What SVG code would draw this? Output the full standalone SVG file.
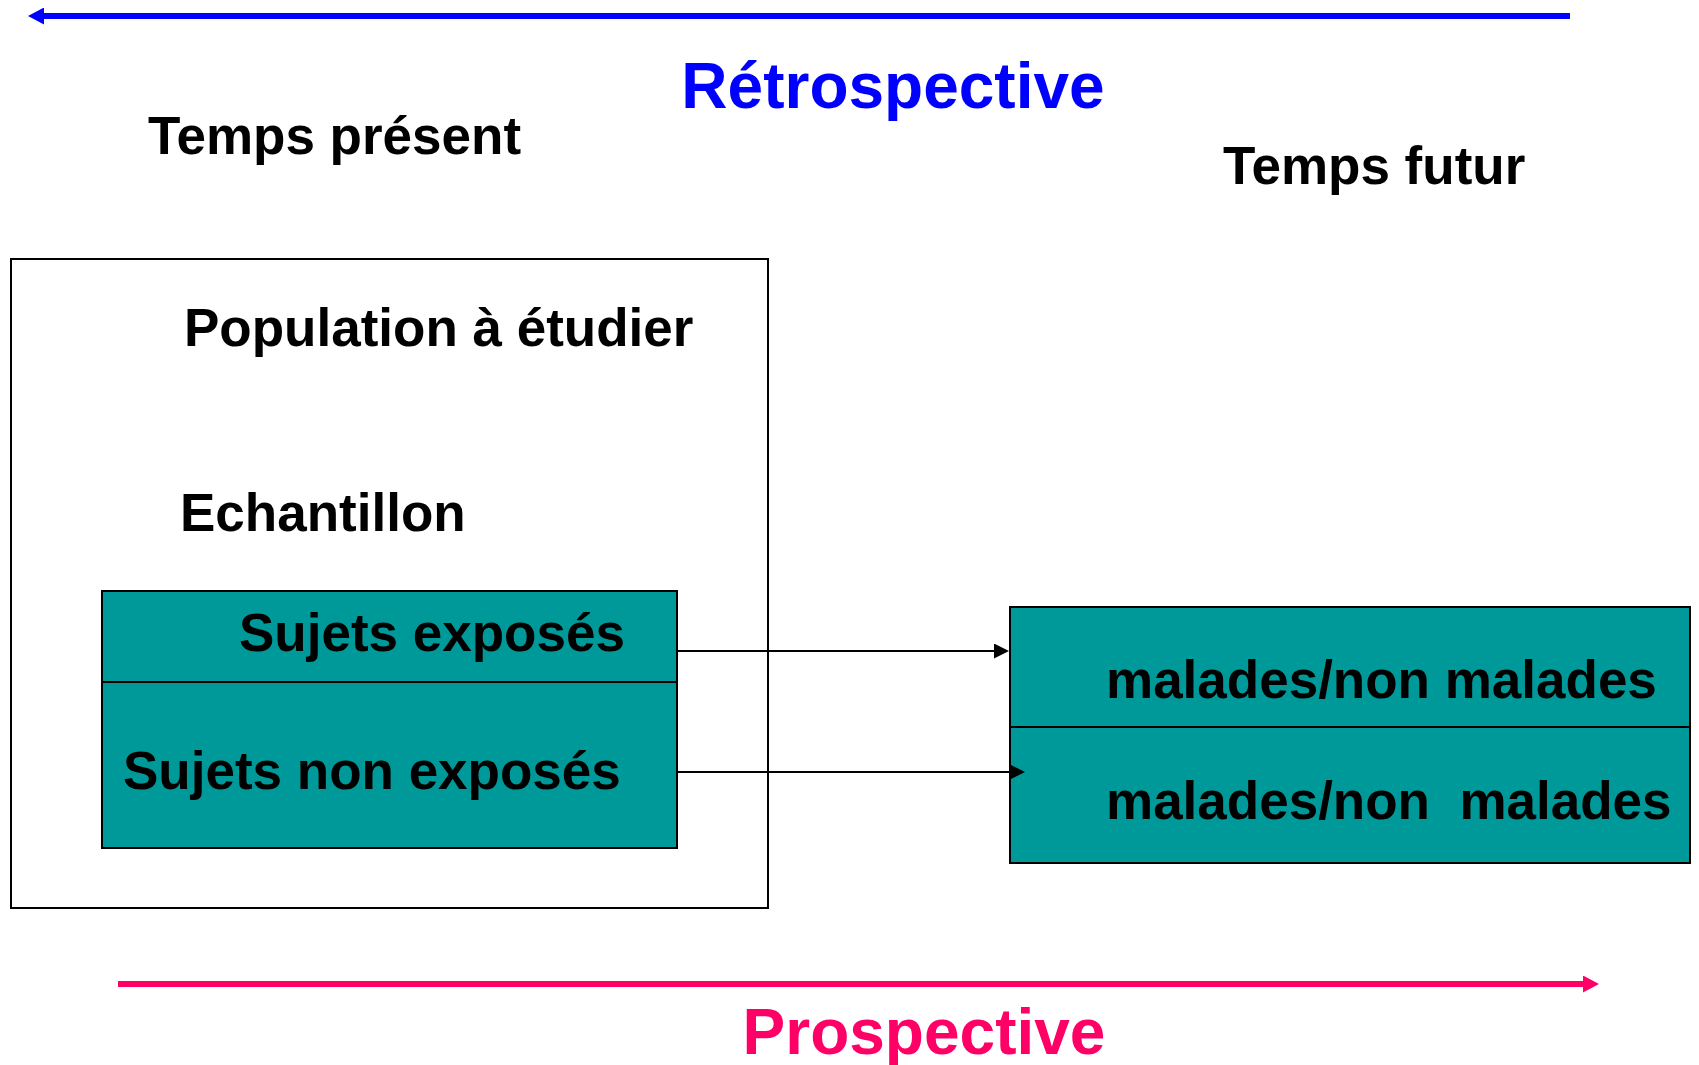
<svg xmlns="http://www.w3.org/2000/svg" width="1699" height="1065" viewBox="0 0 1699 1065">
  <style>
    .lbl { font-family: "Liberation Sans", Arial, sans-serif; font-weight: bold; font-size: 53px; fill: #000; }
    .big { font-family: "Liberation Sans", Arial, sans-serif; font-weight: bold; font-size: 64px; }
    .teal { fill: #009999; stroke: #000; stroke-width: 2; }
    .div { stroke: #000; stroke-width: 2; }
    .conn { stroke: #000; stroke-width: 2; fill: none; }
  </style>
  <defs>
    <marker id="headBlack" markerUnits="userSpaceOnUse" markerWidth="15" markerHeight="15" refX="0" refY="7.5" orient="auto">
      <path d="M0,0 L15,7.5 L0,15 z" fill="#000"/>
    </marker>
    <marker id="headBlue" markerUnits="userSpaceOnUse" markerWidth="16" markerHeight="17" refX="4" refY="8.5" orient="auto">
      <path d="M0,0 L16,8.5 L0,17 z" fill="#0000FF"/>
    </marker>
    <marker id="headPink" markerUnits="userSpaceOnUse" markerWidth="16" markerHeight="17" refX="2" refY="8.5" orient="auto">
      <path d="M0,0 L16,8.5 L0,17 z" fill="#FF0066"/>
    </marker>
  </defs>
  <rect width="1699" height="1065" fill="#fff"/>

  <!-- time axis: retrospective (right to left) -->
  <g id="retrospective">
    <line x1="1570" y1="16" x2="40" y2="16" stroke="#0000FF" stroke-width="6" marker-end="url(#headBlue)"/>
    <text class="big" x="893" y="108" fill="#0000FF" text-anchor="middle">Rétrospective</text>
  </g>

  <g id="temps-present">
    <text class="lbl" x="148" y="154">Temps présent</text>
  </g>
  <g id="temps-futur">
    <text class="lbl" x="1223" y="184">Temps futur</text>
  </g>

  <!-- population frame -->
  <g id="population">
    <rect x="11" y="259" width="757" height="649" fill="#fff" stroke="#000" stroke-width="2"/>
    <text class="lbl" x="184" y="346">Population à étudier</text>
    <text class="lbl" x="180" y="531">Echantillon</text>
  </g>

  <!-- sample split by exposure -->
  <g id="echantillon">
    <rect class="teal" x="102" y="591" width="575" height="257"/>
    <line class="div" x1="102" y1="682" x2="677" y2="682"/>
    <text class="lbl" x="239" y="651">Sujets exposés</text>
    <text class="lbl" x="123" y="789">Sujets non exposés</text>
  </g>

  <!-- outcome at follow-up -->
  <g id="resultats">
    <rect class="teal" x="1010" y="607" width="680" height="256"/>
    <line class="div" x1="1010" y1="727" x2="1690" y2="727"/>
    <text class="lbl" x="1106" y="698">malades/non malades</text>
    <text class="lbl" x="1106" y="819">malades/non&#160; malades</text>
  </g>

  <g id="connectors">
    <line class="conn" x1="677" y1="651" x2="994" y2="651" marker-end="url(#headBlack)"/>
    <line class="conn" x1="677" y1="772" x2="1010" y2="772" marker-end="url(#headBlack)"/>
  </g>

  <!-- time axis: prospective (left to right) -->
  <g id="prospective">
    <line x1="118" y1="984" x2="1585" y2="984" stroke="#FF0066" stroke-width="6" marker-end="url(#headPink)"/>
    <text class="big" x="924" y="1054" fill="#FF0066" text-anchor="middle">Prospective</text>
  </g>
</svg>
